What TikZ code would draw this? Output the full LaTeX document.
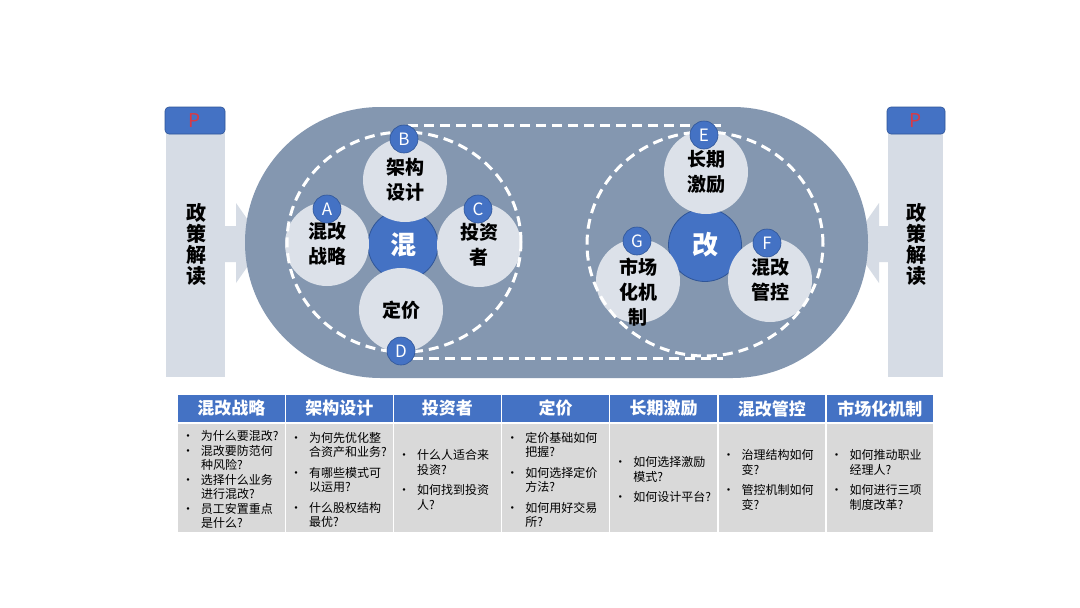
\documentclass[tikz,border=0pt]{standalone}
\usepackage{fontspec}
\setmainfont{Noto Sans CJK SC}
\usetikzlibrary{positioning}
\definecolor{Slate}{HTML}{8497B0}
\definecolor{Mist}{HTML}{DCE1E9}
\definecolor{Royal}{HTML}{4472C4}
\definecolor{Navy}{HTML}{2F5597}
\definecolor{Pale}{HTML}{D6DCE5}
\definecolor{Cell}{HTML}{D9D9D9}
\definecolor{Crimson}{HTML}{D93A44}
\newcommand\qitem[1]{\par\hangindent=19pt\hangafter=1\noindent\hbox to 19pt{\hskip0pt•\hss}#1}
\newcommand\qgap{\par\vskip6pt}
\tikzset{topic/.style={circle,fill=Mist,minimum size=84pt,inner sep=0pt,align=center,font=\bfseries\fontsize{19}{25}\selectfont},hub/.style={circle,fill=Royal,draw=Navy,line width=0.8pt,minimum size=70pt,inner sep=0pt,text=white,font=\bfseries\fontsize{26}{28}\selectfont},badge/.style={circle,fill=Royal,draw=Navy,line width=0.6pt,minimum size=28pt,inner sep=0pt,text=white,font=\fontsize{17}{17}\selectfont},ring/.style={draw=white,line width=3pt,dash pattern=on 10pt off 6pt},headcell/.style={rectangle,fill=Royal,minimum width=106.5pt,minimum height=27pt,inner sep=0pt,text=white,font=\bfseries\fontsize{17}{18}\selectfont},bodycell/.style={rectangle,fill=Cell,minimum width=106.5pt,minimum height=108pt,text width=98.5pt,inner xsep=4pt,inner ysep=1pt,align=left,font=\fontsize{12}{14.5}\selectfont},sidebar/.style={fill=Pale},tab/.style={rectangle,rounded corners=4pt,fill=Royal,draw=Navy,line width=0.6pt,minimum width=60pt,minimum height=27pt,text=Crimson,font=\fontsize{19}{19}\selectfont},vtitle/.style={align=center,text=black,font=\bfseries\fontsize{20}{21}\selectfont}}

\begin{document}
\begin{tikzpicture}[x=1pt,y=-1pt]
\useasboundingbox (0,0) rectangle (1080,608);\fill[white] (0,0) rectangle (1080,608);
\fill[sidebar] (166,133) rectangle (225,377);\fill[sidebar] (224,226)--(236,226)--(236,203)--(264,243)--(236,283)--(236,262)--(224,262)--cycle;
\fill[sidebar] (888,133) rectangle (943,377);\fill[sidebar] (889,226)--(879,226)--(879,203)--(851,243)--(879,283)--(879,262)--(889,262)--cycle;
\node[tab] (tabL) at (195,120.5) {P};\node[tab,minimum width=58pt] (tabR) at (916,120.5) {P};
\node[vtitle] (policyL) at (196,244) {政\\策\\解\\读};\node[vtitle] (policyR) at (916,244) {政\\策\\解\\读};
\fill[Slate,rounded corners=135.5pt] (245,107) rectangle (868,378);
\node[hub] (hunhub) at (403,245) {混};\node[hub,minimum size=73pt] (gaihub) at (705,245) {改};
\node[topic] (design) at (405,180) {架构\\设计};\node[topic] (strategy) at (327,244) {混改\\战略};\node[topic] (investor) at (479,245) {投资\\者};\node[topic] (pricing) at (401,310) {定价};
\node[topic] (incentive) at (706,172) {长期\\激励};\node[topic] (control) at (770,280) {混改\\管控};\node[topic] (market) at (638,281) {};\node[font=\bfseries\fontsize{19}{25}\selectfont,align=center] (marketText) at (638,292) {市场\\化机\\制};
\draw[ring] (404,242) ellipse [x radius=117pt,y radius=110pt];\draw[ring] (705,244) ellipse [x radius=118pt,y radius=112pt];
\coordinate (topL) at (408,125);\coordinate (topR) at (721,125);\coordinate (botL) at (413,358);\coordinate (botR) at (723,358);
\draw[ring] (topL)--(topR);\draw[ring] (botL)--(botR);
\node[badge] (badgeA) at (327,209) {A};\node[badge] (badgeB) at (404,139) {B};\node[badge] (badgeC) at (478,209) {C};\node[badge] (badgeD) at (401,351) {D};
\node[badge] (badgeE) at (704,135) {E};\node[badge] (badgeF) at (767,243) {F};\node[badge] (badgeG) at (637,241) {G};
\foreach \head/\body [count=\i from 0] in {混改战略/{\qitem{为什么要混改?}\qitem{混改要防范何\newline 种风险?}\qitem{选择什么业务\newline 进行混改?}\qitem{员工安置重点\newline 是什么?}},架构设计/{\qitem{为何先优化整\newline 合资产和业务?}\qgap\qitem{有哪些模式可\newline 以运用?}\qgap\qitem{什么股权结构\newline 最优?}},投资者/{\qitem{什么人适合来\newline 投资?}\qgap\qitem{如何找到投资\newline 人?}},定价/{\qitem{定价基础如何\newline 把握?}\qgap\qitem{如何选择定价\newline 方法?}\qgap\qitem{如何用好交易\newline 所?}},长期激励/{\qitem{如何选择激励\newline 模式?}\qgap\qitem{如何设计平台?}},混改管控/{\qitem{治理结构如何\newline 变?}\qgap\qitem{管控机制如何\newline 变?}},市场化机制/{\qitem{如何推动职业\newline 经理人?}\qgap\qitem{如何进行三项\newline 制度改革?}}}
{\node[headcell] (head\i) at (178+108.1*\i+53.25,408.5) {\head};\node[bodycell] (body\i) at (178+108.1*\i+53.25,477.5) {\body\par};}
\end{tikzpicture}
\end{document}
